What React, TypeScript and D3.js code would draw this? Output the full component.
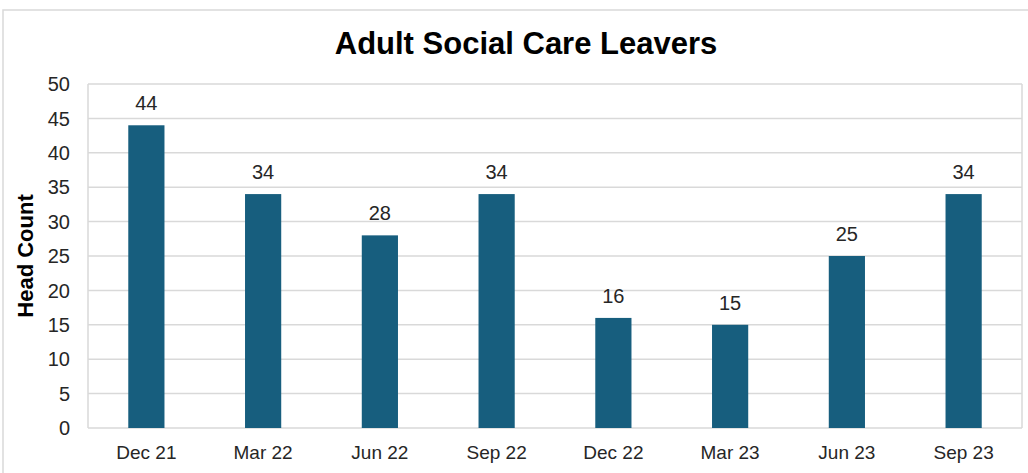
import React from "react";
import * as d3 from "d3";

const categories = ["Dec 21", "Mar 22", "Jun 22", "Sep 22", "Dec 22", "Mar 23", "Jun 23", "Sep 23"];
const values = [44, 34, 28, 34, 16, 15, 25, 34];
const yTicks = [0, 5, 10, 15, 20, 25, 30, 35, 40, 45, 50];

const W = 1028;
const H = 473;
const plot = { left: 88, right: 1022, top: 84, bottom: 428 };
const font = "Liberation Sans, Arial, sans-serif";

export default function App() {
  const x = d3
    .scaleBand<string>()
    .domain(categories)
    .range([plot.left, plot.right])
    .paddingInner(0.69)
    .paddingOuter(0.345);
  const y = d3.scaleLinear().domain([0, 50]).range([plot.bottom, plot.top]);
  const color = "#175e7e";
  const textColor = "#262626";

  return (
    <svg
      width={W}
      height={H}
      style={{ position: "absolute", left: 0, top: 0, background: "#fff" }}
      fontFamily={font}
    >
      <rect x={3} y={10} width={W + 10} height={H + 10} fill="#fff" stroke="#d9d9d9" strokeWidth={1.5} />
      <text x={526} y={54} textAnchor="middle" fontSize={31} fontWeight="bold" fill="#000">
        Adult Social Care Leavers
      </text>
      {yTicks.map((t) => (
        <g key={t}>
          <line x1={plot.left} x2={plot.right} y1={y(t)} y2={y(t)} stroke="#d9d9d9" strokeWidth={1.5} />
          <text x={70} y={y(t)} dy="0.36em" textAnchor="end" fontSize={20} fill={textColor}>
            {t}
          </text>
        </g>
      ))}
      <line x1={plot.left} x2={plot.left} y1={plot.top} y2={plot.bottom} stroke="#d9d9d9" strokeWidth={1.5} />
      <line x1={plot.right} x2={plot.right} y1={plot.top} y2={plot.bottom} stroke="#d9d9d9" strokeWidth={1.5} />
      {categories.map((c, i) => (
        <g key={c}>
          <rect x={x(c)} y={y(values[i])} width={x.bandwidth()} height={plot.bottom - y(values[i])} fill={color} />
          <text x={(x(c) as number) + x.bandwidth() / 2} y={y(values[i]) - 15} textAnchor="middle" fontSize={20} fill={textColor}>
            {values[i]}
          </text>
          <text x={(x(c) as number) + x.bandwidth() / 2} y={459} textAnchor="middle" fontSize={19} fill={textColor}>
            {c}
          </text>
        </g>
      ))}
      <text
        transform={`translate(33, ${(plot.top + plot.bottom) / 2}) rotate(-90)`}
        textAnchor="middle"
        fontSize={22}
        fontWeight="bold"
        fill="#000"
      >
        Head Count
      </text>
    </svg>
  );
}
